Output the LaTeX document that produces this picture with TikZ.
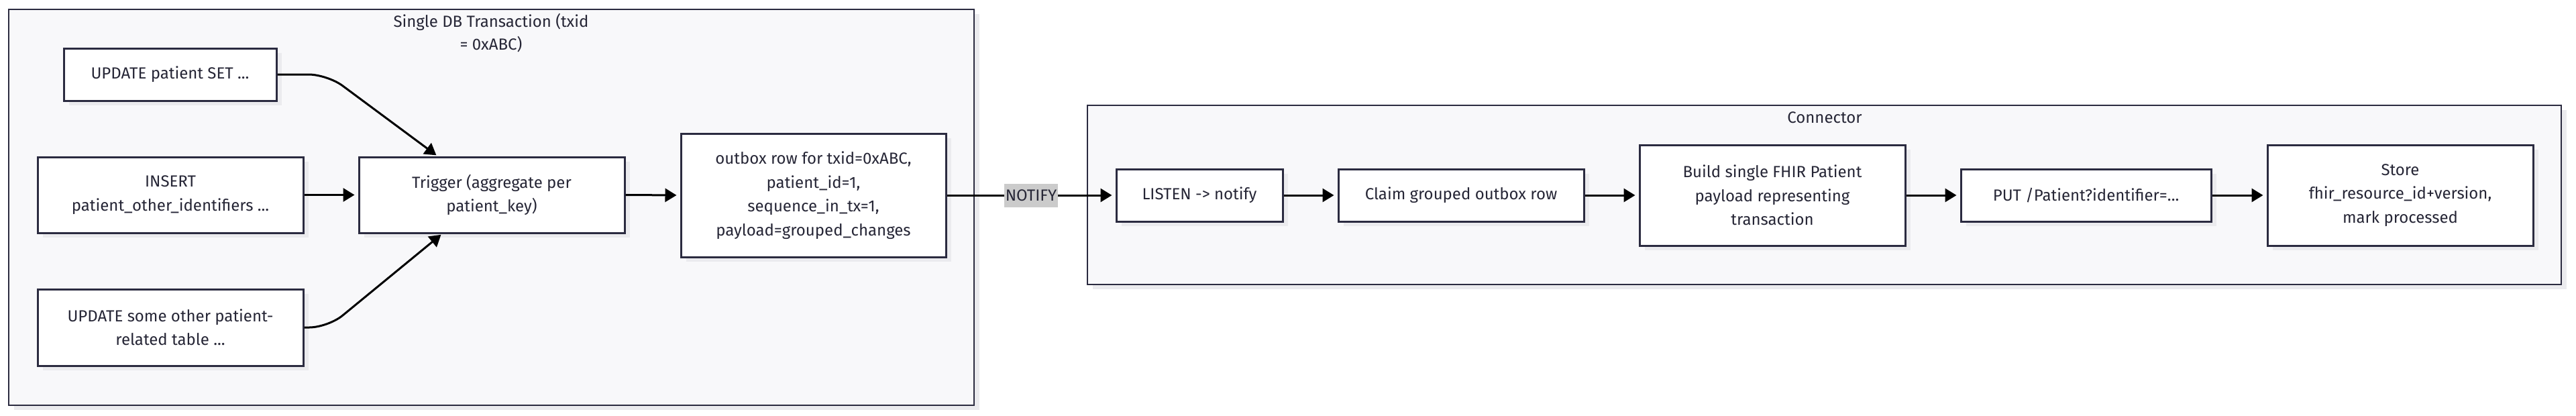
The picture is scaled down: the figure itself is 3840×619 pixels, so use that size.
\documentclass[tikz,border=0pt]{standalone}
\usepackage{fontspec}
\setmainfont{Fira Sans}
\usetikzlibrary{arrows.meta,calc,shadows}
\definecolor{strk}{HTML}{2B2B40}
\definecolor{clfill}{HTML}{F8F8FA}
\definecolor{shd}{HTML}{EBEBEE}
\definecolor{txt}{HTML}{262636}
\definecolor{lblbg}{HTML}{CBCBCB}
\begin{document}
\begin{tikzpicture}[x=1pt,y=-1pt,
  shd/.style={drop shadow={shadow xshift=8pt,shadow yshift=-7pt,fill=shd,opacity=1}},
  cluster/.style={draw=strk,line width=2.8pt,fill=clfill,shd,inner sep=0pt},
  box/.style={draw=strk,line width=3pt,fill=white,shd,text=txt,align=center,
    font=\fontsize{24}{35.5}\selectfont,inner sep=0pt},
  ctitle/.style={text=txt,align=center,font=\fontsize{24}{34}\selectfont,inner sep=0pt},
  edge/.style={draw=black,line width=3pt,-{Triangle[length=17pt,width=20pt]},shorten >=5pt},
  lbl/.style={fill=lblbg,text=txt,font=\fontsize{24}{26}\selectfont,inner xsep=1.5pt,inner ysep=0pt,minimum height=35pt}
]
\useasboundingbox[fill=white] (0,0) rectangle (3840,619);
% clusters
\node[cluster,minimum width=1439pt,minimum height=590pt] (c1) at (732.5,309) {};
\node[cluster,minimum width=2197pt,minimum height=267pt] (c2) at (2719.5,290.5) {};
\node[ctitle] (t1) at (732,49) {Single DB Transaction (txid\\= 0xABC)};
\node[ctitle] (t2) at (2720,175) {Connector};
% nodes
\node[box,minimum width=317pt,minimum height=78pt] (A) at (253.5,111) {UPDATE patient SET ...};
\node[box,minimum width=396pt,minimum height=113pt] (B) at (254,290.5) {INSERT\\patient\_other\_identifiers ...};
\node[box,minimum width=396pt,minimum height=114pt] (C) at (254,488) {UPDATE some other patient-\\related table ...};
\node[box,minimum width=396pt,minimum height=113pt] (trig) at (733,290.5) {Trigger (aggregate per\\patient\_key)};
\node[box,minimum width=395pt,minimum height=184pt] (out) at (1212.5,291) {outbox row for txid=0xABC,\\patient\_id=1,\\sequence\_in\_tx=1,\\payload=grouped\_changes};
\node[box,minimum width=248pt,minimum height=78pt] (listen) at (1788,291) {LISTEN -> notify};
\node[box,minimum width=366pt,minimum height=78pt] (claim) at (2178,291) {Claim grouped outbox row};
\node[box,minimum width=396pt,minimum height=150pt] (build) at (2642,291) {Build single FHIR Patient\\payload representing\\transaction};
\node[box,minimum width=373pt,minimum height=78pt] (put) at (3109.5,291) {PUT /Patient?identifier=...};
\node[box,minimum width=396pt,minimum height=150pt] (store) at (3578,291) {Store\\fhir\_resource\_id+version,\\mark processed};
% bend points
\coordinate (bA) at (488,111);
\coordinate (bC) at (489,488);
% edges
\draw[edge,rounded corners=28pt,shorten >=2pt] (A.east) -- (bA) -- ($(trig.north)+(-81,0)$);
\draw[edge,rounded corners=28pt,shorten >=2pt] (C.east) -- (bC) -- ($(trig.south)+(-74,0)$);
\draw[edge] (B.east) -- (trig.west);
\draw[edge] (trig.east) -- (out.west);
\draw[edge] (out.east) -- node[lbl] (nl) {NOTIFY} (listen.west);
\draw[edge] (listen.east) -- (claim.west);
\draw[edge] (claim.east) -- (build.west);
\draw[edge] (build.east) -- (put.west);
\draw[edge] (put.east) -- (store.west);
\end{tikzpicture}
\end{document}
